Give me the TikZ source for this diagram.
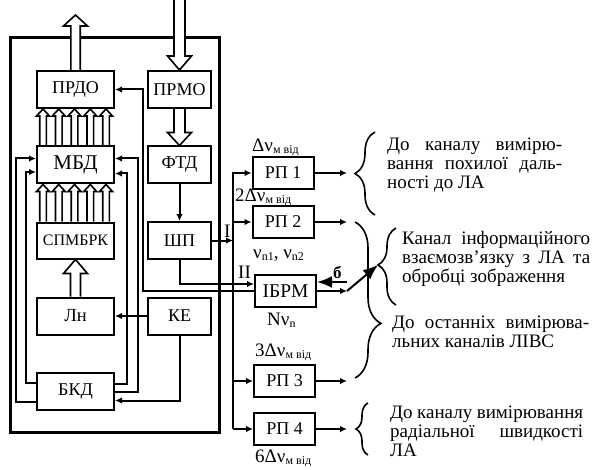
\documentclass[tikz,border=0pt]{standalone}
\usepackage{fontspec}
\setmainfont{Liberation Serif}
\usetikzlibrary{arrows.meta,calc,decorations.pathreplacing,backgrounds}

% wide hollow arrow: from, tip, shaft half width, head half width, head length
\newcommand{\fatarrow}[5]{%
  \draw[fat] let \p1=(#1), \p2=(#2) in
    ({\x1-#3},\y1) -- ({\x1-#3},{\y2-(#5)}) -- ({\x1-#4},{\y2-(#5)}) -- (\x1,\y2)
    -- ({\x1+#4},{\y2-(#5)}) -- ({\x1+#3},{\y2-(#5)}) -- ({\x1+#3},\y1);}
\newcommand{\lowsub}[1]{\raisebox{-2pt}{\fontsize{12}{12}\selectfont #1}}
\newcommand{\dnu}[1]{#1Δν\lowsub{м від}}

\begin{document}
\begin{tikzpicture}[x=1pt, y=-1pt,
    node distance=75.5pt,
    box/.style={rectangle, draw=black, line width=2pt, minimum height=37pt, minimum width=77pt, inner sep=0pt, font=\fontsize{18}{18}\selectfont},
    sbox/.style={box, minimum width=63pt},
    rbox/.style={box, minimum width=61pt, minimum height=32pt},
    arr/.style={-{Latex[length=7pt,width=6.5pt]}, line width=2pt},
    bigarr/.style={-{Latex[length=15pt,width=12pt]}, line width=2pt},
    fat/.style={draw, line width=1.6pt, fill=white, line join=miter},
    housing/.style={draw, line width=3pt},
    brc/.style={decorate, line width=1.6pt},
    sidetext/.style={anchor=west, inner sep=0pt, align=left, font=\fontsize{19}{19}\selectfont},
    lbl/.style={anchor=west, inner sep=0pt, font=\fontsize{19}{19}\selectfont}
]
\useasboundingbox (0,0) rectangle (593,470);

% left column
\node[box] (prdo) at (75.5,89.5) {ПРДО};
\node[box, below of=prdo, font=\fontsize{21}{21}\selectfont] (mbd) {МБД};
\node[box, below of=mbd, minimum height=36pt, font=\fontsize{16}{16}\selectfont] (spmbrk) {СПМБРК};
\node[box, below of=spmbrk, font=\fontsize{18.5}{18.5}\selectfont] (ln) {Лн};
\node[box, below of=ln] (bkd) {БКД};

% right column
\node[sbox, right of=prdo, node distance=104pt] (prmo) {ПРМО};
\node[sbox, below of=prmo] (ftd) {ФТД};
\node[sbox, below of=ftd] (shp) {ШП};
\node[sbox, below of=shp] (ke) {КЕ};

% receivers
\node[rbox] (rp1) at (283,173) {РП 1};
\node[rbox, below of=rp1, node distance=49pt] (rp2) {РП 2};
\node[rbox, font=\fontsize{19.5}{19.5}\selectfont] (ibrm) at (285.5,291) {ІБРМ};
\node[rbox] (rp3) at (284.5,381) {РП 3};
\node[rbox, below of=rp3, node distance=48pt] (rp4) {РП 4};

\coordinate (bus) at (233,0);
\coordinate (outx) at (347,0);
\coordinate (up1) at (75.5,15);
\coordinate (in1) at (179.5,0);
\coordinate (tip3) at (378,265);

% housing and wide arrows
\begin{scope}[on background layer]
\draw[housing] (10,38) rectangle (219,432);
\fatarrow{prdo.north}{up1}{4.7pt}{12pt}{11pt}
\fatarrow{in1}{prmo.north}{5.5pt}{12pt}{-14pt}
\fatarrow{prmo.south}{ftd.north}{5.5pt}{12pt}{-13pt}
\fatarrow{ln.north}{spmbrk.south}{5pt}{12pt}{14pt}
\foreach \i in {0,...,4} {
  \fatarrow{$(mbd.north west)+(7+15.75*\i,0)$}{$(prdo.south west)+(7+15.75*\i,0)$}{3.3pt}{6.5pt}{7pt}
  \fatarrow{$(spmbrk.north west)+(7+15.75*\i,0)$}{$(mbd.south west)+(7+15.75*\i,0)$}{3.3pt}{6.5pt}{7pt}
}
\end{scope}

% connectors
\draw[arr] (ftd) -- (shp);
\draw[arr] (ke) -- (ln);
\draw[arr] (ke.south) |- ([yshift=-9pt]bkd.east);
\draw[arr] ([yshift=8.5pt]bkd.west) -- ++(-10,0) |- ([yshift=-7pt]mbd.west);
\draw[arr] ([yshift=-10pt]bkd.west) -- ++(-20,0) |- ([yshift=6.5pt]mbd.west);
\draw[arr] ([yshift=7.5pt]bkd.east) -- ++(12,0) |- ([yshift=-8.5pt]mbd.east);
\draw[arr] (bkd.east) -- ++(23,0) |- ([yshift=6.5pt]mbd.east);
\draw[arr] (ibrm.west) -| ([xshift=28pt]prdo.east) -- (prdo.east);
\draw[arr] (shp.south) |- ([yshift=7pt]ibrm.west);
\draw[arr] (shp.east) -- (shp.east -| bus);
\draw[arr] (bus |- rp4.west) |- (rp1.west);
\foreach \r in {rp2, rp3, rp4}
  \draw[arr] (bus |- \r.west) -- (\r.west);
\foreach \r in {rp1, rp2, rp3, rp4}
  \draw[arr] (\r.east) -- (\r.east -| outx);
\draw[arr] (ibrm.east) -- (ibrm.east -| outx) coordinate (iout);
\draw[bigarr] (iout) -- (tip3);
\draw[bigarr] ($(ibrm.east -| outx)+(0,-9)$) -- ($(ibrm.east)+(0,-9)$);

% labels
\node[lbl, font=\fontsize{17}{17}\selectfont\bfseries] (blab) at (333,272) {б};
\node[lbl] (f1) at (252,147) {\dnu{}};
\node[lbl] (f2) at (235,197) {\dnu{2}};
\node[lbl] (f3) at (253,256) {ν\lowsub{n1}, ν\lowsub{n2}};
\node[lbl] (f4) at (267,320) {Nν\lowsub{n}};
\node[lbl] (f5) at (255,352) {\dnu{3}};
\node[lbl] (f6) at (255,458) {\dnu{6}};
\node[lbl] (ch1) at (224,231) {I};
\node[lbl] (ch2) at (238,272) {II};

% braces
\draw[brc, decoration={brace, amplitude=20pt}] (375,215) -- (375,132);
\draw[brc, decoration={brace, amplitude=26pt, aspect=0.65}] (355,222) -- (355,378);
\draw[brc, decoration={brace, amplitude=18pt, aspect=0.52}] (396,305) -- (396,228);
\draw[brc, decoration={brace, amplitude=12pt}] (368,455) -- (368,403);

% channel texts
\node[sidetext] (t1) at (387,165) {\makebox[175pt][s]{До каналу вимірю-}\\ \makebox[175pt][s]{вання похилої даль-}\\ ності до ЛА};
\node[sidetext] (t3) at (402,259) {\makebox[188pt][s]{Канал інформаційного}\\ \makebox[188pt][s]{взаємозв’язку з ЛА та}\\ обробці зображення};
\node[sidetext] (t2) at (392,332) {\makebox[197pt][s]{До останніх вимірюва-}\\ льних каналів ЛІВС};
\node[sidetext] (t4) at (390,431) {\makebox[193pt][s]{До каналу вимірювання}\\ \makebox[193pt][s]{радіальної швидкості}\\ ЛА};
\end{tikzpicture}
\end{document}
